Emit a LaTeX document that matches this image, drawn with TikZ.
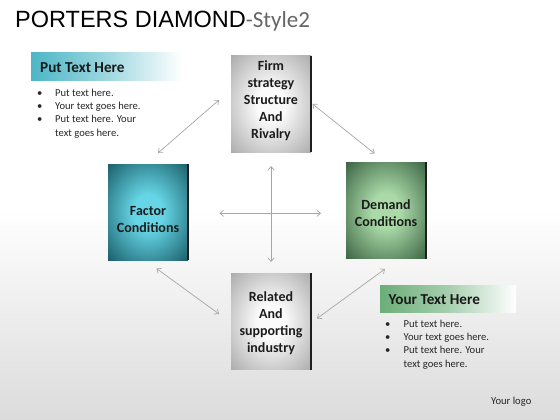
\documentclass[tikz,border=0pt]{standalone}
\usepackage{fontspec}
\setmainfont{Carlito}
\newfontfamily\titlefont{Liberation Sans}
\usetikzlibrary{arrows.meta}
\definecolor{tealdark}{HTML}{1A5C68}
\definecolor{teallight}{HTML}{66D6E6}
\definecolor{greendark}{HTML}{3A6242}
\definecolor{greenlight}{HTML}{AADAA8}
\definecolor{greydark}{HTML}{ABABAB}
\definecolor{greylight}{HTML}{FAFAFA}
\definecolor{bannerteal}{HTML}{4DB6C6}
\definecolor{bannergreen}{HTML}{6BAE78}
\definecolor{arrowgray}{HTML}{A6A6A6}
\definecolor{subgray}{HTML}{666666}
\definecolor{boxtext}{HTML}{1C1C1C}
\pgfdeclareradialshading{greyshade}{\pgfpoint{0bp}{0bp}}{color(0bp)=(greylight); color(9bp)=(greylight); color(36bp)=(greydark); color(50bp)=(greydark)}
\pgfdeclareradialshading{tealshade}{\pgfpoint{0bp}{0bp}}{color(0bp)=(teallight); color(9bp)=(teallight); color(36bp)=(tealdark); color(50bp)=(tealdark)}
\pgfdeclareradialshading{greenshade}{\pgfpoint{0bp}{0bp}}{color(0bp)=(greenlight); color(9bp)=(greenlight); color(36bp)=(greendark); color(50bp)=(greendark)}
\tikzset{
  boxshape/.style={minimum width=80pt, minimum height=96pt, inner sep=0pt},
  greybox/.style={boxshape, shade, shading=greyshade},
  tealbox/.style={boxshape, shade, shading=tealshade},
  greenbox/.style={boxshape, shade, shading=greenshade},
  edgeline/.style={black!88, line width=1.7pt},
  boxlabel/.style={text width=78pt, align=center, inner sep=0pt, text=boxtext,
    font=\bfseries\fontsize{14}{17}\selectfont},
  dblarrow/.style={arrowgray, line width=0.7pt, {Straight Barb[length=3.5pt,width=6pt]}-{Straight Barb[length=3.5pt,width=6pt]}},
  bullettext/.style={anchor=base west, inner sep=0pt, text=black!85,
    font=\fontsize{10.6}{13.4}\selectfont},
  bannertitle/.style={anchor=base west, inner sep=0pt, text=black!90,
    font=\bfseries\fontsize{15.2}{18}\selectfont},
}
\begin{document}
\begin{tikzpicture}[x=1pt,y=-1pt]
  % background
  \useasboundingbox (0,0) rectangle (560,420);
  \shade[top color=white, bottom color=black!14, middle color=white] (0,0) rectangle (560,420);

  % title
  \node[anchor=base west, inner sep=0pt] (title) at (15,28)
    {\titlefont\fontsize{23.5}{26}\selectfont PORTERS DIAMOND\fontsize{23}{26}\normalfont\color{subgray}-Style2};

  % boxes
  \node[greybox] (top) at (271,104) {};
  \node[tealbox] (left) at (148,212) {};
  \node[greenbox] (right) at (386,210.5) {};
  \node[greybox] (bottom) at (271,321.5) {};
  \foreach \b in {top,left,right,bottom}
    \draw[edgeline] (\b.north east) -- (\b.south east);

  % box labels
  \node[boxlabel] (toplab) at (271,101) {Firm\\strategy\\Structure\\And\\Rivalry};
  \node[boxlabel] (leftlab) at (148,219.5) {Factor\\Conditions};
  \node[boxlabel] (rightlab) at (386,213.5) {Demand\\Conditions};
  \node[boxlabel] (bottomlab) at (271,323.5) {Related\\And\\supporting\\industry};

  % arrow end points
  \coordinate (a1) at (158,153);
  \coordinate (a2) at (219,100);
  \coordinate (b1) at (312.5,104);
  \coordinate (b2) at (374.5,153.5);
  \coordinate (c1) at (156.5,268.5);
  \coordinate (c2) at (219,314);
  \coordinate (d1) at (385,269);
  \coordinate (d2) at (317,318.5);
  \coordinate (vt) at (271,166);
  \coordinate (vb) at (271,262);
  \coordinate (hl) at (219.5,213.3);
  \coordinate (hr) at (321,213.3);

  \draw[dblarrow] (a1) -- (a2);
  \draw[dblarrow] (b1) -- (b2);
  \draw[dblarrow] (c1) -- (c2);
  \draw[dblarrow] (d1) -- (d2);
  \draw[dblarrow] (vt) -- (vb);
  \draw[dblarrow] (hl) -- (hr);

  % teal banner
  \shade[left color=bannerteal, right color=white, middle color=bannerteal!55] (31,53) rectangle (182,81);
  \node[bannertitle] (bt1) at (40,73) {Put Text Here};
  \foreach \t [count=\i] in {Put text here.,Your text goes here.,Put text here. Your,text goes here.}
    \node[bullettext] (ta\i) at (55,96+13.4*\i-13.4) {\t};
  \foreach \i in {1,2,3}
    \node[bullettext] (ba\i) at (37,96+13.4*\i-13.4) {•};

  % green banner
  \shade[left color=bannergreen, right color=white, middle color=bannergreen!60] (380,285) rectangle (516,312);
  \node[bannertitle] (bt2) at (388.5,304.5) {Your Text Here};
  \foreach \t [count=\i] in {Put text here.,Your text goes here.,Put text here. Your,text goes here.}
    \node[bullettext] (tb\i) at (403.5,327+13.4*\i-13.4) {\t};
  \foreach \i in {1,2,3}
    \node[bullettext] (bb\i) at (385,327+13.4*\i-13.4) {•};

  % logo
  \node[anchor=base west, inner sep=0pt, text=black!85, font=\fontsize{10.6}{13}\selectfont] (logo) at (491,404) {Your logo};
\end{tikzpicture}
\end{document}
